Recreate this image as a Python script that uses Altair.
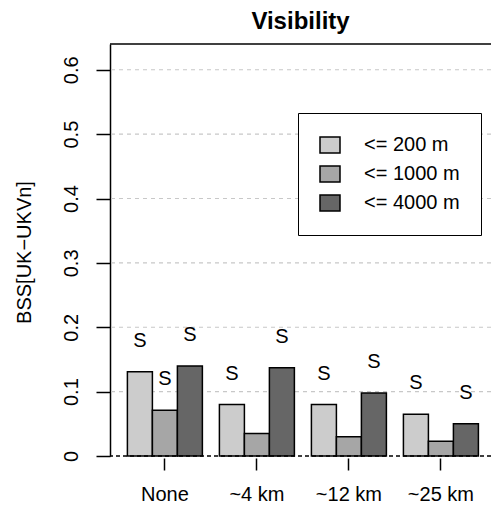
import altair as alt
import pandas as pd

categories = ["None", "~4 km", "~12 km", "~25 km"]
series = ["<= 200 m", "<= 1000 m", "<= 4000 m"]
v200 = [0.131, 0.080, 0.080, 0.065]
v1000 = [0.071, 0.035, 0.030, 0.023]
v4000 = [0.140, 0.137, 0.098, 0.050]
sig200 = ["S", "S", "S", "S"]
sig1000 = ["S", "", "", ""]
sig4000 = ["S", "S", "S", "S"]
colors = ["#cccccc", "#a6a6a6", "#666666"]
y_ticks = [0, 0.1, 0.2, 0.3, 0.4, 0.5, 0.6]
grid_vals = [0.1, 0.2, 0.3, 0.4, 0.5, 0.6]

rows = []
for s, vals, sigs in zip(series, [v200, v1000, v4000], [sig200, sig1000, sig4000]):
    for c, v, g in zip(categories, vals, sigs):
        rows.append({"cat": c, "series": s, "value": v, "sig": g})
df = pd.DataFrame(rows)

FONT = "Liberation Sans"

xenc = alt.X("cat:N", sort=categories, title=None,
             scale=alt.Scale(paddingInner=0.185, paddingOuter=0.163, align=0.58),
             axis=alt.Axis(domain=False, tickSize=12, tickWidth=1.5, tickColor="black",
                           offset=2, labelAngle=0, labelFontSize=20, labelFont=FONT,
                           labelColor="black", labelPadding=14))
xoff = alt.XOffset("series:N", sort=series,
                   scale=alt.Scale(paddingInner=0, paddingOuter=0))
yscale = alt.Scale(domain=[0, 0.64], nice=False)

grid = alt.Chart(pd.DataFrame({"g": grid_vals})).mark_rule(
    color="#c8c8c8", strokeDash=[4, 4], strokeWidth=1.2
).encode(y=alt.Y("g:Q", scale=yscale))

bars = alt.Chart(df).mark_bar(stroke="black", strokeWidth=1.5, opacity=1).encode(
    x=xenc,
    xOffset=xoff,
    y=alt.Y("value:Q", scale=yscale, title="BSS[UK−UKVn]",
            axis=alt.Axis(values=y_ticks, grid=False, domainColor="black",
                          domainWidth=1.5, tickColor="black", tickWidth=1.5,
                          tickSize=14, labelAngle=270, labelAlign="center",
                          labelBaseline="bottom", labelFontSize=20, labelFont=FONT,
                          labelColor="black", labelPadding=15, format="~g",
                          titleFontSize=20, titleFont=FONT, titleFontWeight="normal",
                          titleColor="black", titleAngle=270, titleAlign="center",
                          titleBaseline="bottom", titleX=-76, titleY=208)),
    fill=alt.Fill("series:N", sort=series,
                  scale=alt.Scale(domain=series, range=colors),
                  legend=alt.Legend(title=None, orient="none", legendX=188, legendY=69,
                                    symbolType="M-1,-0.8H1V0.8H-1Z", symbolSize=400,
                                    symbolStrokeColor="black", symbolStrokeWidth=1.5,
                                    symbolOpacity=1,
                                    labelFontSize=20, labelFont=FONT, labelColor="black",
                                    labelOffset=23, rowPadding=7, padding=21,
                                    strokeColor="black", fillColor="white",
                                    labelExpr="datum.label + '    '")),
)

sig = alt.Chart(df).mark_text(fontSize=20, font=FONT, color="black",
                              baseline="middle", dy=-31).encode(
    x=alt.X("cat:N", sort=categories),
    xOffset=xoff,
    y=alt.Y("value:Q", scale=yscale),
    text="sig:N",
)

zero = alt.Chart(pd.DataFrame({"z": [0]})).mark_rule(
    color="black", strokeDash=[4, 3], strokeWidth=1.5
).encode(y=alt.Y("z:Q", scale=yscale))

top = alt.Chart(pd.DataFrame({"t": [0.64]})).mark_rule(
    color="black", strokeWidth=1.5
).encode(y=alt.Y("t:Q", scale=yscale))

chart = alt.layer(grid, bars, zero, sig, top).properties(
    width=381, height=412,
    padding={"left": 110, "top": 44, "right": 0, "bottom": 51},
    autosize=alt.AutoSizeParams(type="none"),
    title=alt.Title("Visibility", fontSize=24, font=FONT, fontWeight="bold",
                    color="black", anchor="middle", frame="group", offset=11,
                    baseline="bottom", dy=26),
).configure_view(stroke=None)

chart.save("out.html", embed_options={"renderer": "svg", "actions": False})
